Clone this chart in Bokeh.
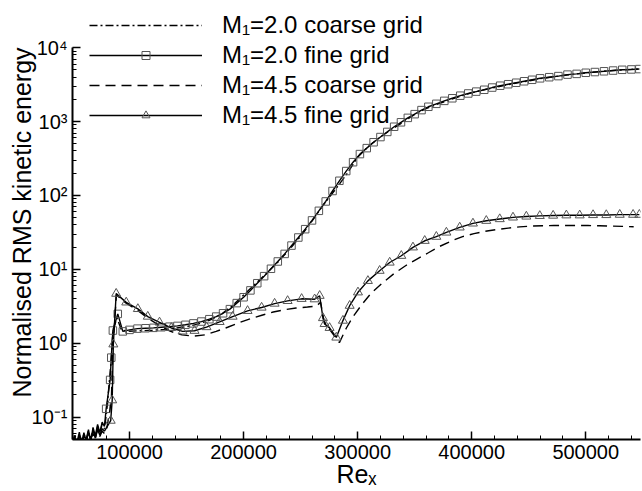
from bokeh.plotting import figure
from bokeh.models import (Legend, LegendItem, CustomJSTickFormatter, FixedTicker,
                          NumeralTickFormatter)
from bokeh.embed import file_html
from bokeh.resources import INLINE

# ---------------- data ----------------
# low-level noise before transition (both grids)
noise_x = [50000, 52000, 54000, 56000, 58000, 60000, 62000, 64000, 66000, 68000,
           70000, 72000, 74000, 76000, 78000]
noise_m20_coarse = [0.045, 0.06, 0.042, 0.058, 0.044, 0.062, 0.047, 0.066, 0.05, 0.07,
                    0.052, 0.075, 0.058, 0.082, 0.07]
noise_m20_fine = [0.04, 0.055, 0.046, 0.063, 0.043, 0.057, 0.05, 0.068, 0.046, 0.073,
                  0.056, 0.08, 0.062, 0.086, 0.075]
noise_m45_coarse = [0.043, 0.052, 0.04, 0.06, 0.048, 0.055, 0.045, 0.064, 0.052, 0.06,
                    0.05, 0.07, 0.055, 0.065, 0.06]
noise_m45_fine = [0.046, 0.05, 0.044, 0.056, 0.047, 0.059, 0.049, 0.061, 0.05, 0.066,
                  0.054, 0.068, 0.057, 0.07, 0.065]

# M1 = 2.0, coarse grid (dash-dot)
m20_coarse_x = [80000, 83500, 85500, 89000, 93000, 100000, 110000, 120000, 130000, 140000,
                150000, 160000, 170000, 180000, 190000, 200000, 210000, 220000, 230000,
                240000, 250000, 260000, 270000, 280000, 290000, 300000, 310000, 320000,
                330000, 340000, 350000, 360000, 370000, 380000, 390000, 400000, 410000,
                420000, 430000, 440000, 450000, 460000, 470000, 480000, 490000, 500000,
                510000, 520000, 530000, 540000, 547000]
m20_coarse_y = [0.12, 0.5, 1.5, 2.2, 1.5, 1.46, 1.48, 1.5, 1.54, 1.6,
                1.68, 1.82, 2.05, 2.45, 3.2, 4.5, 6.3, 8.8, 12.5,
                18.5, 28, 45, 75, 118, 190, 330, 470, 620,
                790, 980, 1250, 1500, 1720, 1950, 2200, 2450, 2680,
                2880, 3120, 3340, 3550, 3800, 4000, 4200, 4380, 4560,
                4700, 4850, 4980, 5080, 5150]

# M1 = 2.0, fine grid (squares)
m20_fine_x = [79500, 83000, 84000, 85400, 89700, 94100, 100000, 107000, 114000, 121000,
              128000, 135000, 142000, 149000, 156000, 163000, 170000, 176000, 182000,
              188000, 194000, 200000, 206000, 212000, 218000, 224000, 230000, 236000,
              242000, 248000, 254000, 260000, 266000, 272000, 278000, 284000, 290000,
              296000, 302000, 308000, 314000, 320000, 326000, 332000, 338000, 344000,
              350000, 356000, 362000, 369000, 376000, 383000, 390000, 397000, 404000,
              411000, 418000, 425000, 432000, 439000, 446000, 453000, 460000, 468000,
              476000, 484000, 492000, 500000, 508000, 516000, 524000, 532000, 540000,
              547000]
m20_fine_y = [0.13, 0.32, 0.64, 1.49, 2.5, 1.45, 1.52, 1.58, 1.6, 1.62,
              1.65, 1.68, 1.72, 1.78, 1.86, 1.97, 2.12, 2.3, 2.55,
              2.9, 3.5, 4.2, 5.2, 6.5, 8.1, 10.2, 12.8, 16.2,
              21, 27, 35, 46, 62, 83, 115, 158, 214,
              282, 363, 437, 525, 617, 724, 851, 977, 1122,
              1259, 1429, 1585, 1738, 1905, 2065, 2239, 2399, 2541,
              2692, 2884, 3055, 3199, 3350, 3508, 3673, 3846, 3981,
              4121, 4315, 4416, 4571, 4677, 4786, 4898, 5012, 5070,
              5129]

# M1 = 4.5, coarse grid (dashed)
m45_coarse_x = [80000, 84000, 85500, 88500, 97000, 107000, 116000, 126000, 136000, 146000,
                156000, 166000, 176000, 186000, 196000, 206000, 216000, 226000, 236000,
                246000, 256000, 264000, 267500, 270500, 276000, 284000, 290000, 296000,
                304000, 312000, 322000, 332000, 342000, 352000, 362000, 372000, 382000,
                392000, 402000, 412000, 422000, 432000, 442000, 452000, 462000, 472000,
                482000, 492000, 502000, 512000, 522000, 532000, 542000]
m45_coarse_y = [0.07, 0.16, 0.9, 4.5, 3.5, 2.8, 2.2, 1.75, 1.45, 1.3,
                1.25, 1.3, 1.45, 1.65, 1.9, 2.15, 2.4, 2.65, 2.85,
                3.0, 3.1, 3.2, 3.6, 2.0, 1.5, 1.02, 1.6, 2.3,
                3.4, 4.8, 6.6, 8.8, 11.2, 13.8, 16.8, 20.5, 24.2,
                27.8, 30.5, 32.8, 34.6, 36.2, 37.6, 38.5, 39.0, 39.2,
                39.3, 39.3, 39.2, 39.0, 38.6, 38.2, 37.8]

# M1 = 4.5, fine grid (triangles)
m45_fine_x = [83500, 84800, 85800, 88300, 97100, 107300, 116000, 126300, 136600, 146500,
              157000, 167500, 179000, 190400, 203500, 215800, 227200, 238600, 250900,
              262300, 266700, 269600, 271000, 275400, 281300, 287100, 293000, 300300,
              309000, 319300, 328100, 338300, 348500, 358800, 369000, 377800, 389500,
              401100, 412800, 424600, 436200, 447900, 459700, 471400, 483000, 494700,
              506400, 518000, 529800, 541500, 547000]
m45_fine_y = [0.09, 0.17, 0.97, 4.7, 3.58, 2.92, 2.3, 1.92, 1.62, 1.45,
              1.48, 1.66, 1.95, 2.3, 2.75, 3.05, 3.45, 3.75, 4.0,
              3.95, 4.4, 2.2, 1.83, 1.62, 1.2, 2.03, 3.23, 4.9,
              7.0, 9.6, 12.4, 15.3, 19.9, 24.4, 27.7, 31.6, 37.0,
              41.9, 45.5, 48.0, 50.5, 52.0, 53.0, 53.5, 54.0, 54.0,
              54.5, 54.5, 55.0, 55.0, 55.0]

labels = ["M\u2081=2.0 coarse grid", "M\u2081=2.0 fine grid",
          "M\u2081=4.5 coarse grid", "M\u2081=4.5 fine grid"]

x_major = [100000, 200000, 300000, 400000, 500000]
y_major = [0.1, 1, 10, 100, 1000, 10000]

# ---------------- figure ----------------
FONT = "Liberation Sans"
# the frame reaches above 10^4 so that the legend (which sits above the axis top) is not clipped
p = figure(width=642, height=491, x_range=(50000, 548000), y_range=(0.05, 10 ** 4.57),
           y_axis_type="log", output_backend="svg", toolbar_location=None,
           min_border_left=72, min_border_right=2, min_border_top=5,
           min_border_bottom=52)
p.background_fill_color = "white"
p.border_fill_color = "white"
p.outline_line_color = None
p.grid.visible = False

r1 = p.line(noise_x + m20_coarse_x, noise_m20_coarse + m20_coarse_y,
            line_color="black", line_width=1.4, line_dash="8 3 2 3")
r2 = p.line(noise_x + m20_fine_x, noise_m20_fine + m20_fine_y,
            line_color="black", line_width=1.4)
s2 = p.scatter(m20_fine_x, m20_fine_y, marker="square", size=7.5,
               fill_color=None, line_color="#555555", line_width=1)
r3 = p.line(noise_x + m45_coarse_x, noise_m45_coarse + m45_coarse_y,
            line_color="black", line_width=1.4, line_dash="10 6")
r4 = p.line(noise_x + m45_fine_x, noise_m45_fine + m45_fine_y,
            line_color="black", line_width=1.4)
s4 = p.scatter(m45_fine_x, m45_fine_y, marker="triangle", size=9,
               fill_color=None, line_color="#555555", line_width=1)

# ---------------- axes ----------------
p.xaxis.ticker = FixedTicker(ticks=x_major,
                             minor_ticks=list(range(60000, 548000, 20000)))
p.xaxis.formatter = NumeralTickFormatter(format="0")
minor_y = [k * 10.0 ** e for e in range(-2, 4) for k in range(2, 10)]
p.yaxis.ticker = FixedTicker(ticks=y_major, minor_ticks=minor_y)
p.yaxis.bounds = (0.05, 10000)
p.yaxis.formatter = CustomJSTickFormatter(code="""
const e = Math.round(Math.log10(tick));
const sup = {"-":"\u207b","0":"\u2070","1":"\u00b9","2":"\u00b2","3":"\u00b3",
             "4":"\u2074","5":"\u2075","6":"\u2076","7":"\u2077","8":"\u2078","9":"\u2079"};
return "10" + String(e).split("").map(c => sup[c]).join("");
""")

for ax in (p.xaxis[0], p.yaxis[0]):
    ax.axis_line_width = 2
    ax.axis_line_color = "black"
    ax.major_tick_in = 8
    ax.major_tick_out = 0
    ax.minor_tick_in = 4
    ax.minor_tick_out = 0
    ax.major_tick_line_width = 1.5
    ax.minor_tick_line_width = 1
    ax.major_label_text_font = FONT
    ax.major_label_text_font_size = "20px"
    ax.major_label_text_color = "black"
    ax.axis_label_text_font = FONT
    ax.axis_label_text_font_size = "25px"
    ax.axis_label_text_font_style = "normal"
    ax.axis_label_text_color = "black"

p.xaxis.axis_label = "Re\u2093"
p.xaxis.major_label_standoff = 5
p.xaxis.axis_label_standoff = -2
p.yaxis.axis_label = "Normalised RMS kinetic energy"
p.yaxis.major_label_standoff = 5
p.yaxis.axis_label_standoff = -7

# ---------------- legend ----------------
legend = Legend(items=[LegendItem(label=labels[0], renderers=[r1]),
                       LegendItem(label=labels[1], renderers=[r2, s2]),
                       LegendItem(label=labels[2], renderers=[r3]),
                       LegendItem(label=labels[3], renderers=[r4, s4])],
                location=(17, 310))
legend.border_line_color = None
legend.background_fill_alpha = 0
legend.padding = 0
legend.margin = 0
legend.glyph_width = 113
legend.glyph_height = 20
legend.label_height = 20
legend.label_standoff = 20
legend.spacing = 2
legend.label_text_font = FONT
legend.label_text_font_size = "24px"
legend.label_text_color = "black"
p.add_layout(legend)

open("out.html", "w").write(file_html(p, INLINE))
